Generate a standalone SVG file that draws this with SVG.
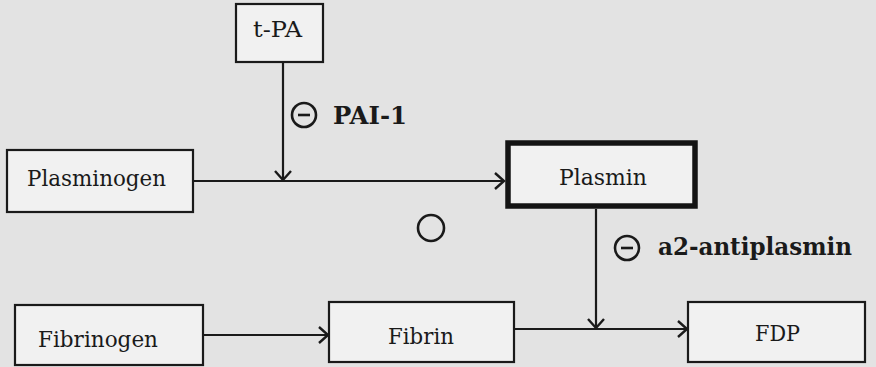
<svg xmlns="http://www.w3.org/2000/svg" width="876" height="367" viewBox="0 0 876 367">
<style>
.box{fill:#f1f1f1;stroke:#1a1a1a;stroke-width:2.2}
.thick{fill:#f1f1f1;stroke:#141414;stroke-width:5.5}
.lbl{font-family:"DejaVu Serif","Liberation Serif",serif;font-size:22.5px;fill:#1a1a1a}
.inh{font-family:"DejaVu Serif","Liberation Serif",serif;font-size:24px;font-weight:bold;fill:#1a1a1a}
.con{fill:none;stroke:#1a1a1a;stroke-width:2.2}
.sym{fill:none;stroke:#1a1a1a;stroke-width:2.6}
</style>
<defs>
<marker id="arr" markerUnits="userSpaceOnUse" markerWidth="14" markerHeight="20" viewBox="-12 -10 14 20" refX="0" refY="0" orient="auto">
<path d="M-9,-8 L0,0 L-9,8" fill="none" stroke="#1a1a1a" stroke-width="2.4"/>
</marker>
</defs>
<rect width="876" height="367" fill="#e3e3e3"/>
<g id="connectors">
<path class="con" d="M283,62 V180" marker-end="url(#arr)"/>
<path class="con" d="M193,181 H504" marker-end="url(#arr)"/>
<path class="con" d="M596,209 V328" marker-end="url(#arr)"/>
<path class="con" d="M514,329 H687" marker-end="url(#arr)"/>
<path class="con" d="M203,335 H328" marker-end="url(#arr)"/>
</g>
<g id="tpa">
<rect class="box" x="236" y="4" width="87" height="58"/>
<text class="lbl" x="253" y="37" textLength="49" lengthAdjust="spacingAndGlyphs">t-PA</text>
</g>
<g id="plasminogen">
<rect class="box" x="7" y="150" width="186" height="62"/>
<text class="lbl" x="27" y="186" textLength="139" lengthAdjust="spacingAndGlyphs">Plasminogen</text>
</g>
<g id="plasmin">
<rect class="thick" x="508" y="143" width="187" height="63"/>
<text class="lbl" x="559" y="185" textLength="88" lengthAdjust="spacingAndGlyphs">Plasmin</text>
</g>
<g id="fibrinogen">
<rect class="box" x="15" y="305" width="188" height="60"/>
<text class="lbl" x="38" y="347" textLength="120" lengthAdjust="spacingAndGlyphs">Fibrinogen</text>
</g>
<g id="fibrin">
<rect class="box" x="329" y="302" width="185" height="60"/>
<text class="lbl" x="388" y="344" textLength="66" lengthAdjust="spacingAndGlyphs">Fibrin</text>
</g>
<g id="fdp">
<rect class="box" x="688" y="302" width="177" height="60"/>
<text class="lbl" x="755" y="341" textLength="45" lengthAdjust="spacingAndGlyphs">FDP</text>
</g>
<g id="pai1">
<circle class="sym" cx="304" cy="115" r="12"/>
<path class="sym" d="M298,115 H310"/>
<text class="inh" x="333" y="124" textLength="74" lengthAdjust="spacingAndGlyphs">PAI-1</text>
</g>
<g id="antiplasmin">
<circle class="sym" cx="627" cy="248" r="12"/>
<path class="sym" d="M621,248 H633"/>
<text class="inh" x="658" y="255" textLength="194" lengthAdjust="spacingAndGlyphs">a2-antiplasmin</text>
</g>
<g id="circle">
<circle class="sym" cx="431" cy="228" r="13" stroke-width="2.2"/>
</g>
</svg>
